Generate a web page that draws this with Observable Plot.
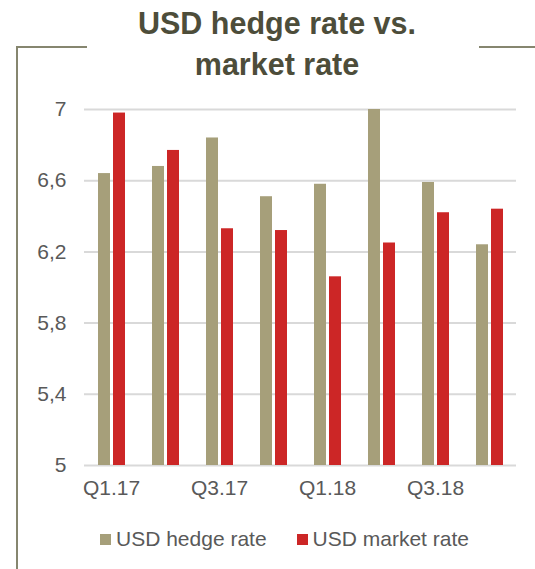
<!DOCTYPE html>
<html>
<head>
<meta charset="utf-8">
<script src="https://cdn.jsdelivr.net/npm/d3@7"></script>
<script src="https://cdn.jsdelivr.net/npm/@observablehq/plot@0.6"></script>
<style>
  html, body { margin: 0; padding: 0; background: #fff; }
  #wrap { position: relative; width: 535px; height: 569px; overflow: hidden; font-family: Arial, "Liberation Sans", sans-serif; }
  #title { position: absolute; left: 17px; width: 520px; top: 3px; text-align: center; font-weight: bold; font-size: 30.5px; line-height: 41px; color: #4d4d3a; }
  .frame { position: absolute; background: #86866f; }
  #chart { position: absolute; left: 0; top: 90px; }
  #legend { position: absolute; top: 527px; left: 100px; font-size: 21px; color: #595959; display: flex; gap: 30px; white-space: nowrap; }
  #legend span.item { display: inline-flex; align-items: center; }
  #legend i { display: inline-block; width: 11px; height: 11px; margin-right: 5px; }
</style>
</head>
<body>
<div id="wrap">
  <div class="frame" style="left:17px; top:46px; width:70px; height:2px;"></div>
  <div class="frame" style="left:479px; top:46px; width:56px; height:2px;"></div>
  <div class="frame" style="left:16px; top:46px; width:2px; height:523px;"></div>
  <div id="title">USD hedge rate vs.<br>market rate</div>
  <div id="chart"></div>
  <div id="legend"></div>
</div>
<script>
// Quarterly USD rates
const quarters = ["Q1.17", "Q2.17", "Q3.17", "Q4.17", "Q1.18", "Q2.18", "Q3.18", "Q4.18"];
const hedgeRate = [6.64, 6.68, 6.84, 6.51, 6.58, 7.00, 6.59, 6.24];
const marketRate = [6.98, 6.77, 6.33, 6.32, 6.06, 6.25, 6.42, 6.44];
const seriesNames = ["USD hedge rate", "USD market rate"];
const seriesColors = ["#a69f7a", "#cc2626"];
const yTicks = [5, 5.4, 5.8, 6.2, 6.6, 7];
const xTickLabels = ["Q1.17", "Q3.17", "Q1.18", "Q3.18"];

const data = quarters.flatMap((q, i) => [
  {quarter: q, series: seriesNames[0], value: hedgeRate[i]},
  {quarter: q, series: seriesNames[1], value: marketRate[i]}
]);

const yMin = yTicks[0];
const yMax = yTicks[yTicks.length - 1];
const fmt = d => String(d).replace(".", ",");

const chart = Plot.plot({
  width: 535,
  height: 415,
  marginTop: 19,
  marginBottom: 40,
  marginLeft: 83,
  marginRight: 18,
  style: {fontFamily: "Arial, 'Liberation Sans', sans-serif", fontSize: "21px", color: "#595959", background: "transparent"},
  fx: {
    domain: quarters, padding: 0, label: null, axis: "bottom",
    tickSize: 0, tickPadding: 15,
    tickFormat: d => xTickLabels.includes(d) ? d : ""
  },
  x: {domain: seriesNames, paddingInner: 0.22, paddingOuter: 0.87, axis: null},
  y: {domain: [yMin, yMax], ticks: yTicks, tickSize: 0, tickPadding: 18, tickFormat: fmt, label: null},
  color: {domain: seriesNames, range: seriesColors},
  marks: [
    Plot.ruleY(yTicks, {stroke: "#d9d9d9", strokeWidth: 2}),
    Plot.barY(data, {fx: "quarter", x: "series", y1: () => yMin, y2: "value", fill: "series"})
  ]
});
document.getElementById("chart").appendChild(chart);

const legend = document.getElementById("legend");
seriesNames.forEach((name, i) => {
  const item = document.createElement("span");
  item.className = "item";
  const sw = document.createElement("i");
  sw.style.background = seriesColors[i];
  item.appendChild(sw);
  item.appendChild(document.createTextNode(name));
  legend.appendChild(item);
});
</script>
</body>
</html>
